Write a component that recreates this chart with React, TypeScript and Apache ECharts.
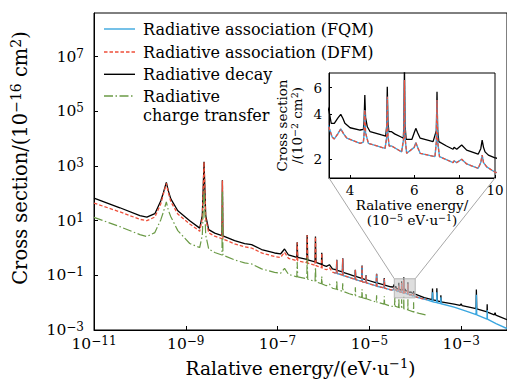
import React, { useEffect, useRef } from 'react';
import * as echarts from 'echarts';

type Pt = [number, number];

// Energies in eV/u, cross sections in 1e-16 cm^2.
// Radiative decay below the zoom window
const decayLow: Pt[] = [
  [1e-11, 67], [3.67e-11, 29.7], [1e-10, 15.2], [1.42e-10, 13.4], [2.12e-10, 18.0],
  [2.86e-10, 53.4], [3.24e-10, 104], [3.77e-10, 251], [4.17e-10, 123], [4.72e-10, 63.1],
  [6.7e-10, 23.1], [1.22e-9, 10], [2.01e-9, 5.34], [2.29e-9, 15.2], [2.5e-9, 1430],
  [2.72e-9, 15.2], [3.16e-9, 4.71], [4.27e-9, 3.51], [6.15e-9, 2.85], [6.28e-9, 302],
  [6.45e-9, 2.8], [1.16e-8, 1.87], [1.92e-8, 1.46], [2.72e-8, 1.34], [4.49e-8, 0.882],
  [8.61e-8, 0.658], [1.16e-7, 0.605], [1.42e-7, 0.92], [1.73e-7, 0.556], [2.63e-7, 0.451],
  [2.68e-7, 1.63], [2.75e-7, 0.451], [4.34e-7, 0.382], [4.42e-7, 3.02], [4.54e-7, 0.366],
  [6.56e-7, 0.31], [6.7e-7, 2.62], [6.87e-7, 0.297], [9.05e-7, 0.251], [9.19e-7, 0.669],
  [9.37e-7, 0.243], [1.16e-6, 0.212], [1.35e-6, 0.245], [1.57e-6, 0.172], [1.92e-6, 0.158],
  [1.95e-6, 0.372], [1.99e-6, 0.152], [2.59e-6, 0.134], [2.63e-6, 0.426], [2.68e-6, 0.129],
  [3.67e-6, 0.109], [4.89e-6, 0.092], [4.96e-6, 0.161], [5.04e-6, 0.091], [6.84e-6, 0.0778],
  [6.94e-6, 0.231], [7.04e-6, 0.0759], [8.36e-6, 0.0703], [8.48e-6, 0.1], [8.6e-6, 0.069],
  [1.42e-5, 0.0534], [1.44e-5, 0.115], [1.46e-5, 0.0525], [2.09e-5, 0.0452], [2.12e-5, 0.0798],
  [2.15e-5, 0.0443], [2.93e-5, 0.0382],
];

// Radiative decay above the zoom window
const decayHigh: Pt[] = [
  [1.57e-4, 0.0152], [2.34e-4, 0.01285], [2.38e-4, 0.0328], [2.42e-4, 0.0126],
  [2.92e-4, 0.0118], [2.96e-4, 0.0337], [3.01e-4, 0.0117], [3.57e-4, 0.01086],
  [3.62e-4, 0.01875], [3.67e-4, 0.0107], [7.05e-4, 0.00882], [9.5e-4, 0.0079],
  [1.0e-3, 0.009], [1.05e-3, 0.0078], [2.12e-3, 0.00605], [2.15e-3, 0.0302],
  [2.19e-3, 0.00598], [3.67e-3, 0.0046], [3.7e-3, 0.00882], [3.74e-3, 0.0045],
  [5.3e-3, 0.0036], [5.5e-3, 0.0043], [5.7e-3, 0.0035], [1e-2, 0.0024],
];

// Zoom window: energy in 1e-5 eV/u, cross section in 1e-2 (x 1e-16 cm^2)
const insetDecay: Pt[] = [
  [3.3, 3.7], [3.45, 4.6], [3.5, 4.2], [3.55, 3.46], [3.62, 3.46], [3.7, 3.75], [3.77, 3.98],
  [3.82, 3.75], [3.87, 3.47], [4.0, 3.24], [4.26, 3.13], [4.35, 3.16], [4.37, 3.6], [4.39, 5.35],
  [4.41, 3.8], [4.46, 3.29], [4.54, 3.05], [4.88, 2.9], [5.01, 2.85], [5.04, 3.3], [5.06, 6.07],
  [5.08, 3.6], [5.11, 3.05], [5.2, 3.05], [5.3, 2.95], [5.54, 2.8], [5.6, 2.76], [5.62, 3.4],
  [5.64, 8.5], [5.66, 3.4], [5.7, 2.71], [5.91, 2.71], [6.0, 3.0], [6.06, 3.21], [6.13, 3.0],
  [6.23, 2.76], [6.76, 2.62], [6.9, 3.1], [6.93, 5.62], [6.96, 3.1], [7.01, 2.62], [7.36, 2.45],
  [7.67, 2.33], [7.72, 2.4], [7.85, 2.33], [8.1, 2.49], [8.36, 2.3], [8.99, 2.16], [9.14, 2.35],
  [9.22, 2.68], [9.3, 2.4], [9.39, 2.24], [9.59, 2.13], [9.96, 2.05], [10.2, 2.02],
];

const insetAssoc: Pt[] = [
  [3.3, 2.9], [3.45, 3.6], [3.5, 3.25], [3.57, 2.81], [3.62, 2.73], [3.7, 2.95], [3.77, 3.18],
  [3.84, 2.95], [3.92, 2.76], [4.26, 2.55], [4.35, 2.6], [4.37, 2.95], [4.39, 4.25], [4.41, 3.0],
  [4.49, 2.55], [4.99, 2.36], [5.04, 2.8], [5.06, 5.21], [5.08, 2.9], [5.12, 2.45], [5.2, 2.45],
  [5.54, 2.24], [5.62, 2.8], [5.64, 6.73], [5.66, 2.8], [5.72, 2.19], [6.0, 2.4], [6.06, 2.58],
  [6.13, 2.4], [6.23, 2.19], [6.84, 2.08], [6.9, 2.6], [6.93, 4.95], [6.96, 2.6], [7.04, 2.08],
  [7.67, 1.9], [7.72, 1.95], [7.85, 1.9], [8.1, 2.0], [8.36, 1.86], [8.99, 1.74], [9.14, 1.9],
  [9.22, 2.13], [9.3, 1.9], [9.49, 1.78], [9.96, 1.65], [10.2, 1.62],
];

// Radiative association, DFM only (low energies)
const dfmLow: Pt[] = [
  [1e-11, 44], [3.67e-11, 21], [1e-10, 11.2], [1.42e-10, 10.0], [2.12e-10, 13.6], [2.86e-10, 42],
  [3.24e-10, 92], [3.77e-10, 232], [4.17e-10, 105], [4.72e-10, 50], [6.7e-10, 17.5],
  [1.22e-9, 7.6], [2.01e-9, 4.1], [2.29e-9, 12], [2.5e-9, 1400], [2.72e-9, 12], [3.16e-9, 3.6],
  [4.27e-9, 2.7], [6.15e-9, 2.2], [6.28e-9, 295], [6.45e-9, 2.15], [1.16e-8, 1.42],
  [1.92e-8, 1.1], [2.72e-8, 1.0], [4.49e-8, 0.66], [8.61e-8, 0.49], [1.16e-7, 0.45],
  [1.42e-7, 0.7], [1.73e-7, 0.42], [2.63e-7, 0.34], [2.68e-7, 1.6], [2.75e-7, 0.34],
  [4.34e-7, 0.29], [4.42e-7, 2.95], [4.54e-7, 0.28], [6.56e-7, 0.235], [6.7e-7, 2.55],
  [6.87e-7, 0.225], [9.05e-7, 0.19], [9.19e-7, 0.65], [9.37e-7, 0.185], [1.16e-6, 0.16],
  [1.35e-6, 0.19], [1.57e-6, 0.131],
];

// Radiative association where FQM and DFM coincide
const assocMid: Pt[] = [
  [1.7e-6, 0.125], [1.92e-6, 0.12], [1.95e-6, 0.36], [1.99e-6, 0.117], [2.59e-6, 0.103],
  [2.63e-6, 0.41], [2.68e-6, 0.099], [3.67e-6, 0.084], [4.89e-6, 0.071], [4.96e-6, 0.155],
  [5.04e-6, 0.07], [6.84e-6, 0.06], [6.94e-6, 0.22], [7.04e-6, 0.058], [8.36e-6, 0.054],
  [8.48e-6, 0.095], [8.6e-6, 0.053], [1.42e-5, 0.041], [1.44e-5, 0.11], [1.46e-5, 0.04],
  [2.09e-5, 0.0348], [2.12e-5, 0.075], [2.15e-5, 0.034], [2.93e-5, 0.0294],
];
const assocNearTail: Pt[] = [[1.4e-4, 0.0142], [1.8e-4, 0.0128]];

// Radiative association, FQM only (high energies)
const fqmHigh: Pt[] = [
  [2.34e-4, 0.01086], [2.38e-4, 0.0241], [2.42e-4, 0.0107], [2.92e-4, 0.01], [2.96e-4, 0.0241],
  [3.01e-4, 0.0099], [3.57e-4, 0.0092], [3.62e-4, 0.0158], [3.67e-4, 0.0091], [7.05e-4, 0.00685],
  [1.49e-3, 0.00452], [2.12e-3, 0.00366], [2.15e-3, 0.0195], [2.19e-3, 0.0036],
  [3.67e-3, 0.00251], [3.7e-3, 0.00534], [3.74e-3, 0.00248], [5.77e-3, 0.00172], [1e-2, 0.00113],
];

// Radiative charge transfer
const chargeLow: Pt[] = [
  [1e-11, 13.2], [3.67e-11, 6.05], [1e-10, 3.1], [1.42e-10, 2.62], [2.12e-10, 3.66],
  [2.86e-10, 10.9], [3.24e-10, 20.4], [3.77e-10, 49], [4.17e-10, 24.1], [4.72e-10, 14],
  [6.7e-10, 4.33], [1.22e-9, 1.46], [2.01e-9, 1.04], [2.29e-9, 2.97], [2.5e-9, 123],
  [2.72e-9, 2.97], [3.16e-9, 0.92], [4.27e-9, 0.686], [6.15e-9, 0.556], [6.28e-9, 123],
  [6.45e-9, 0.55], [1.16e-8, 0.366], [1.92e-8, 0.285], [2.72e-8, 0.262], [4.49e-8, 0.172],
  [8.61e-8, 0.128], [1.16e-7, 0.118], [1.42e-7, 0.18], [1.73e-7, 0.109], [2.63e-7, 0.0882],
  [2.68e-7, 0.305], [2.75e-7, 0.088], [4.34e-7, 0.0746], [4.42e-7, 0.462], [4.54e-7, 0.0718],
  [6.56e-7, 0.0605], [6.7e-7, 0.2], [6.87e-7, 0.0583], [9.05e-7, 0.049], [9.19e-7, 0.092],
  [9.37e-7, 0.048], [1.16e-6, 0.0415], [1.35e-6, 0.048], [1.57e-6, 0.0337], [1.92e-6, 0.031],
  [1.95e-6, 0.0658], [1.99e-6, 0.0305], [2.59e-6, 0.0262], [2.63e-6, 0.0512], [2.68e-6, 0.026],
  [3.67e-6, 0.0212], [4.89e-6, 0.0182], [4.96e-6, 0.0367], [5.04e-6, 0.018], [6.84e-6, 0.0154],
  [6.94e-6, 0.031], [7.04e-6, 0.0152], [8.36e-6, 0.014], [8.48e-6, 0.0221], [8.6e-6, 0.0139],
  [1.42e-5, 0.0105], [1.44e-5, 0.0187], [1.46e-5, 0.0104], [2.09e-5, 0.0089], [2.12e-5, 0.017],
  [2.15e-5, 0.0088], [2.93e-5, 0.00746],
];
const chargeHigh: Pt[] = [
  [3.4e-5, 0.0072], [3.55e-5, 0.0085], [3.6e-5, 0.0158], [3.65e-5, 0.0074], [4.35e-5, 0.0067],
  [4.4e-5, 0.0146], [4.45e-5, 0.0066], [5.02e-5, 0.0063], [5.06e-5, 0.0134], [5.1e-5, 0.0062],
  [5.6e-5, 0.006], [5.64e-5, 0.0165], [5.68e-5, 0.0059], [6.9e-5, 0.0055], [6.93e-5, 0.0134],
  [6.97e-5, 0.0054], [9.15e-5, 0.0046], [9.22e-5, 0.0104], [9.3e-5, 0.0046], [1.22e-4, 0.00405],
  [1.8e-4, 0.00351],
];

// Axis ticks (decade exponents for the main panel, plain values for the zoom panel)
const xTickExponents = [-11, -9, -7, -5, -3];
const yTickExponents = [-3, -1, 1, 3, 5, 7];
const insetXTicks = [4, 6, 8, 10];
const insetYTicks = [2, 4, 6];
const insetXRange: Pt = [3.5, 10];
const insetYRange: Pt = [1.5, 7.5];
const INSET_X_UNIT = 1e-5;
const INSET_Y_UNIT = 1e-2;

const legendItems = [
  { name: 'Radiative association (FQM)', color: '#3aa6df', dash: null as number[] | null },
  { name: 'Radiative association (DFM)', color: '#ee4f3a', dash: [3.5, 2] },
  { name: 'Radiative decay', color: '#000000', dash: null },
  { name: 'Radiative\ncharge transfer', color: '#6b9a46', dash: [9, 2.5, 1.5, 2.5] },
];

const FONT = '"DejaVu Serif", serif';
const MINUS = '\u2212';

const toLog = (pts: Pt[], sx = 1, sy = 1): Pt[] =>
  pts.map(([x, y]) => [Math.log10(x * sx), Math.log10(y * sy)]);

const powerLabel = (v: number) => {
  const e = Math.round(v);
  return `{b|10}{s|${e < 0 ? MINUS + Math.abs(e) : e}}`;
};

const tickRich = {
  b: { fontFamily: FONT, fontSize: 15.5, lineHeight: 18, color: '#000' },
  s: { fontFamily: FONT, fontSize: 12, lineHeight: 9, verticalAlign: 'top', color: '#000' },
};
const titleRich = {
  t: { fontFamily: FONT, fontSize: 18.5, lineHeight: 22, color: '#000' },
  s: { fontFamily: FONT, fontSize: 13, lineHeight: 11, verticalAlign: 'top', color: '#000' },
};
const yTitleRich = {
  t: { fontFamily: FONT, fontSize: 19.5, lineHeight: 23, color: '#000' },
  s: { fontFamily: FONT, fontSize: 14, lineHeight: 11, verticalAlign: 'top', color: '#000' },
};
const insetRich = {
  t: { fontFamily: FONT, fontSize: 13.5, lineHeight: 15.5, color: '#000' },
  s: { fontFamily: FONT, fontSize: 9.5, lineHeight: 8, verticalAlign: 'top', color: '#000' },
};

export default function App() {
  const ref = useRef<HTMLDivElement>(null);

  useEffect(() => {
    if (!ref.current) return;
    const chart = echarts.init(ref.current, undefined, { renderer: 'svg' });

    const scaledInsetDecay = insetDecay.map(([x, y]) => [x * INSET_X_UNIT, y * INSET_Y_UNIT] as Pt);
    const scaledInsetAssoc = insetAssoc.map(([x, y]) => [x * INSET_X_UNIT, y * INSET_Y_UNIT] as Pt);

    const decay = toLog([...decayLow, ...scaledInsetDecay, ...decayHigh]);
    const fqm = toLog([...assocMid, ...scaledInsetAssoc, ...assocNearTail, ...fqmHigh]);
    const dfm = toLog([...dfmLow, ...assocMid, ...scaledInsetAssoc, ...assocNearTail]);
    const charge = toLog([...chargeLow, ...chargeHigh]);

    const axisLineStyle = { color: '#000', width: 1 };
    const baseLine = (extra: any) => ({
      type: 'line',
      showSymbol: false,
      symbol: 'none',
      silent: true,
      clip: true,
      ...extra,
    });

    chart.setOption({
      animation: false,
      grid: [
        { left: 94, top: 13, width: 414, height: 317, show: true, borderColor: '#000', borderWidth: 1, backgroundColor: 'transparent' },
        { left: 329, top: 73, width: 166, height: 105, show: true, borderColor: '#000', borderWidth: 1, backgroundColor: '#fff' },
      ],
      xAxis: [
        {
          gridIndex: 0, type: 'value', min: -11, max: -2,
          axisLine: { show: true, onZero: false, lineStyle: axisLineStyle },
          axisTick: { show: true, inside: true, length: 4, customValues: xTickExponents, lineStyle: axisLineStyle },
          axisLabel: { customValues: xTickExponents, formatter: powerLabel, rich: tickRich, margin: 5 },
          splitLine: { show: false },
          name: `{t|Ralative energy/(eV\u00b7u}{s|${MINUS}1}{t|)}`,
          nameLocation: 'middle', nameGap: 27,
          nameTextStyle: { rich: titleRich },
        },
        {
          gridIndex: 1, type: 'value', min: Math.log10(insetXRange[0]), max: Math.log10(insetXRange[1]),
          axisLine: { show: true, onZero: false, lineStyle: axisLineStyle },
          axisTick: { show: true, inside: true, length: 3, customValues: insetXTicks.map(Math.log10), lineStyle: axisLineStyle },
          axisLabel: {
            customValues: insetXTicks.map(Math.log10),
            formatter: (v: number) => String(Math.round(Math.pow(10, v))),
            fontFamily: FONT, fontSize: 13.5, color: '#000', margin: 5,
          },
          splitLine: { show: false },
          name: `{t|Ralative energy/}\n{t|(10}{s|${MINUS}5}{t| eV\u00b7u}{s|${MINUS}1}{t|)}`,
          nameLocation: 'middle', nameGap: 19,
          nameTextStyle: { rich: insetRich },
        },
      ],
      yAxis: [
        {
          gridIndex: 0, type: 'value', min: -3, max: 8.6,
          axisLine: { show: true, onZero: false, lineStyle: axisLineStyle },
          axisTick: { show: true, inside: true, length: 4, customValues: yTickExponents, lineStyle: axisLineStyle },
          axisLabel: { customValues: yTickExponents, formatter: powerLabel, rich: tickRich, margin: 10 },
          splitLine: { show: false },
        },
        {
          gridIndex: 1, type: 'value', min: Math.log10(insetYRange[0]), max: Math.log10(insetYRange[1]),
          axisLine: { show: true, onZero: false, lineStyle: axisLineStyle },
          axisTick: { show: true, inside: true, length: 3, customValues: insetYTicks.map(Math.log10), lineStyle: axisLineStyle },
          axisLabel: {
            customValues: insetYTicks.map(Math.log10),
            formatter: (v: number) => String(Math.round(Math.pow(10, v))),
            fontFamily: FONT, fontSize: 13.5, color: '#000', margin: 7,
          },
          splitLine: { show: false },
          name: `{t|Cross section}\n{t|/(10}{s|${MINUS}2}{t| cm}{s|2}{t|)}`,
          nameLocation: 'middle', nameGap: 24, nameRotate: 90,
          nameTextStyle: { rich: insetRich },
        },
      ],
      series: [
        baseLine({ name: 'Radiative decay', xAxisIndex: 0, yAxisIndex: 0, data: decay, z: 2, lineStyle: { color: '#000', width: 1.3 } }),
        baseLine({ name: 'Radiative association (FQM)', xAxisIndex: 0, yAxisIndex: 0, data: fqm, z: 3, lineStyle: { color: legendItems[0].color, width: 1.4 } }),
        baseLine({ name: 'Radiative association (DFM)', xAxisIndex: 0, yAxisIndex: 0, data: dfm, z: 4, lineStyle: { color: legendItems[1].color, width: 1.3, type: legendItems[1].dash } }),
        baseLine({ name: 'Radiative charge transfer', xAxisIndex: 0, yAxisIndex: 0, data: charge, z: 5, lineStyle: { color: legendItems[3].color, width: 1.2, type: legendItems[3].dash } }),
        baseLine({ xAxisIndex: 1, yAxisIndex: 1, data: toLog(insetDecay), z: 6, lineStyle: { color: '#000', width: 1.3 } }),
        baseLine({ xAxisIndex: 1, yAxisIndex: 1, data: toLog(insetAssoc), z: 7, lineStyle: { color: legendItems[0].color, width: 1.4 } }),
        baseLine({ xAxisIndex: 1, yAxisIndex: 1, data: toLog(insetAssoc), z: 8, lineStyle: { color: legendItems[1].color, width: 1.3, type: legendItems[1].dash } }),
      ],
    });

    // Zoom window marker and its connectors, positioned through the axes
    const main = { xAxisIndex: 0, yAxisIndex: 0 };
    const inset = { xAxisIndex: 1, yAxisIndex: 1 };
    const boxMin = chart.convertToPixel(main, [
      Math.log10(insetXRange[0] * INSET_X_UNIT), Math.log10(insetYRange[0] * INSET_Y_UNIT),
    ]) as number[];
    const boxMax = chart.convertToPixel(main, [
      Math.log10(insetXRange[1] * INSET_X_UNIT), Math.log10(insetYRange[1] * INSET_Y_UNIT),
    ]) as number[];
    const insetBL = chart.convertToPixel(inset, [Math.log10(insetXRange[0]), Math.log10(insetYRange[0])]) as number[];
    const insetBR = chart.convertToPixel(inset, [Math.log10(insetXRange[1]), Math.log10(insetYRange[0])]) as number[];

    const legendRows = [29, 52, 74.3, 96];
    const legendGraphics: any[] = [];
    legendItems.forEach((item, i) => {
      const y = legendRows[i];
      legendGraphics.push({
        type: 'line', id: `legend-line-${i}`, z: 20, silent: true,
        shape: { x1: 104, y1: y, x2: 135, y2: y },
        style: { stroke: item.color, lineWidth: 1.4, lineDash: item.dash || undefined },
      });
      const multi = item.name.includes('\n');
      legendGraphics.push({
        type: 'text', id: `legend-text-${i}`, z: 20, silent: true,
        x: 143, y: multi ? y - 9.75 : y,
        style: {
          text: item.name, fontFamily: FONT, fontSize: 16, fill: '#000',
          lineHeight: 19.5, verticalAlign: multi ? 'top' : 'middle', align: 'left',
        },
      });
    });

    chart.setOption({
      graphic: [
        ...legendGraphics,
        {
          type: 'text', id: 'y-title', silent: true, x: 20, y: 158, rotation: Math.PI / 2,
          style: {
            text: `{t|Cross section/(10}{s|${MINUS}16}{t| cm}{s|2}{t|)}`,
            rich: yTitleRich, align: 'center', verticalAlign: 'middle',
          },
        },
        {
          type: 'line', id: 'conn-left', silent: true, z: 30,
          shape: { x1: boxMin[0], y1: boxMax[1], x2: insetBL[0], y2: insetBL[1] },
          style: { stroke: '#a8a8a8', lineWidth: 1 },
        },
        {
          type: 'line', id: 'conn-right', silent: true, z: 30,
          shape: { x1: boxMax[0], y1: boxMax[1], x2: insetBR[0], y2: insetBR[1] },
          style: { stroke: '#a8a8a8', lineWidth: 1 },
        },
        {
          type: 'rect', id: 'zoom-box', silent: true, z: 30,
          shape: { x: boxMin[0], y: boxMax[1], width: boxMax[0] - boxMin[0], height: boxMin[1] - boxMax[1] },
          style: { fill: 'rgba(195,195,195,0.55)', stroke: '#b5b5b5', lineWidth: 1 },
        },
      ],
    });

    return () => chart.dispose();
  }, []);

  return (
    <div
      ref={ref}
      style={{ position: 'fixed', left: 0, top: 0, width: 507, height: 383, background: '#fff' }}
    />
  );
}
